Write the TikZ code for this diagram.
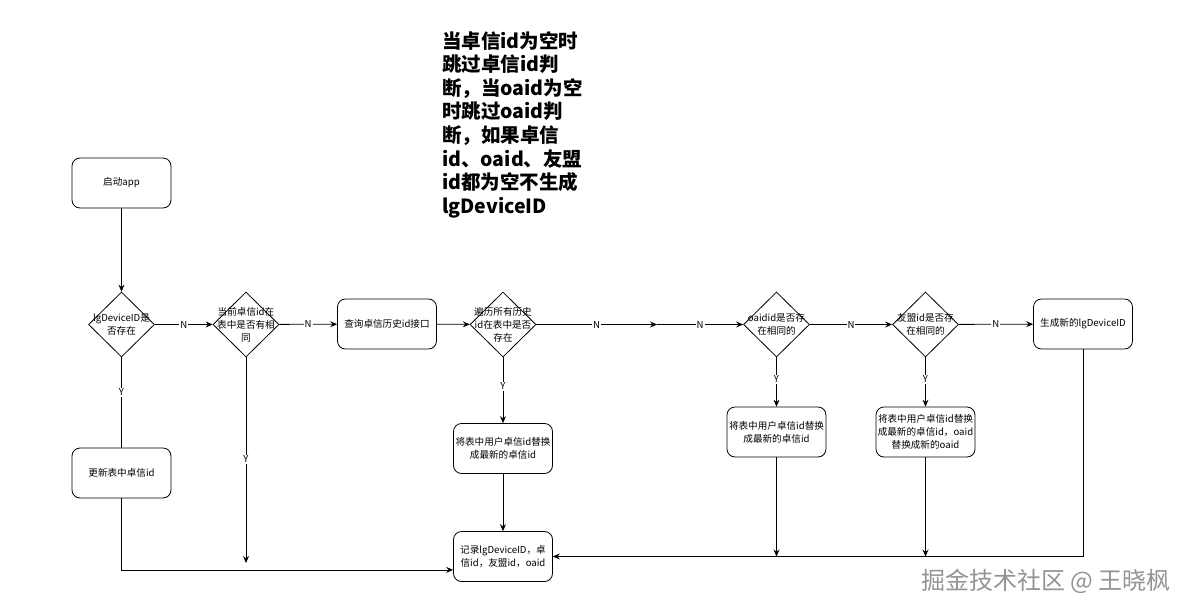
\documentclass[tikz,border=0pt]{standalone}
\usepackage{fontspec}
\setmainfont{Noto Sans CJK SC}
\usetikzlibrary{shapes.geometric,arrows.meta}
\newcommand\fsmall{\fontsize{9.6pt}{13pt}\selectfont}
\begin{document}
\begin{tikzpicture}[x=1pt,y=-1pt,
  box/.style={draw, rounded corners=8pt, minimum width=99pt, minimum height=50pt, align=center, font=\fsmall, inner sep=1pt, line width=0.8pt},
  dia/.style={draw, diamond, minimum width=66pt, minimum height=65pt, inner sep=0pt, line width=0.8pt},
  dtxt/.style={align=center, font=\fsmall, inner sep=0pt},
  lbl/.style={fill=white, inner sep=1pt, font=\fsmall},
  arr/.style={line width=0.8pt, -{Stealth[length=7pt,width=6pt,inset=2.5pt]}},
  ln/.style={line width=0.8pt}]
\useasboundingbox (0,0) rectangle (1200,616);
\fill[white] (0,0) rectangle (1200,616);

\node[box] (start) at (121.5,183) {启动app};
\node[dia, label={[dtxt]center:lgDeviceID是\\否存在}] (d1) at (121.5,324.5) {};
\node[dia, label={[dtxt]center:当前卓信id在\\表中是否有相\\同}] (d2) at (246,324.5) {};
\node[box] (q) at (387,324) {查询卓信历史id接口};
\node[dia, label={[dtxt]center:遍历所有历史\\id在表中是否\\存在}] (d3) at (503,324.5) {};
\coordinate (m) at (657,324.5);
\node[dia, label={[dtxt]center:oaidid是否存\\在相同的}] (d4) at (776.5,324.5) {};
\node[dia, label={[dtxt]center:友盟id是否存\\在相同的}] (d5) at (925.5,324.5) {};
\node[box] (gen) at (1083,324) {生成新的lgDeviceID};
\node[box] (b3) at (503,448.5) {将表中用户卓信id替换\\成最新的卓信id};
\node[box] (b4) at (776.5,432) {将表中用户卓信id替换\\成最新的卓信id};
\node[box] (b5) at (925.5,432) {将表中用户卓信id替换\\成最新的卓信id，oaid\\替换成新的oaid};
\node[box] (upd) at (121.5,473) {更新表中卓信id};
\node[box] (rec) at (503,556.5) {记录lgDeviceID，卓\\信id，友盟id，oaid};

\coordinate (d2end) at (246,563);
\coordinate (recL) at ([yshift=12pt]rec.south west);
\coordinate (b4end) at (776.5,556.5);
\coordinate (b5end) at (925.5,556.5);

\draw[arr] (start) -- (d1);
\draw[arr] (d1) -- node[lbl]{N} (d2);
\draw[arr] (d2) -- node[lbl]{N} (q);
\draw[arr] (q) -- (d3);
\draw[arr] (d3) -- node[lbl]{N} (m);
\draw[arr] (m) -- node[lbl]{N} (d4);
\draw[arr] (d4) -- node[lbl]{N} (d5);
\draw[arr] (d5) -- node[lbl]{N} (gen);
\draw[arr] (d3) -- node[lbl,pos=.44]{Y} (b3);
\draw[arr] (d4) -- node[lbl,pos=.44]{Y} (b4);
\draw[arr] (d5) -- node[lbl,pos=.44]{Y} (b5);
\draw[ln] (d1) -- node[lbl,pos=.385]{Y} (upd);
\draw[arr] (d2) -- node[lbl,pos=.495]{Y} (d2end);
\draw[arr] (b3) -- (rec);
\draw[arr] (upd) |- (recL);
\draw[arr] (gen.south) |- (rec);
\draw[arr] (b4) -- (b4end);
\draw[arr] (b5) -- (b5end);

\node[anchor=north west, align=left, inner sep=0pt, font=\fontsize{19.5pt}{23.6pt}\selectfont\bfseries] (note) at (442,31)
  {当卓信id为空时\\跳过卓信id判\\断，当oaid为空\\时跳过oaid判\\断，如果卓信\\id、oaid、友盟\\id都为空不生成\\lgDeviceID};

\node[anchor=west, inner sep=0pt, text=black!42, font=\fontsize{24pt}{24pt}\selectfont] (wm) at (921,581) {掘金技术社区 @ 王晓枫};
\end{tikzpicture}
\end{document}
